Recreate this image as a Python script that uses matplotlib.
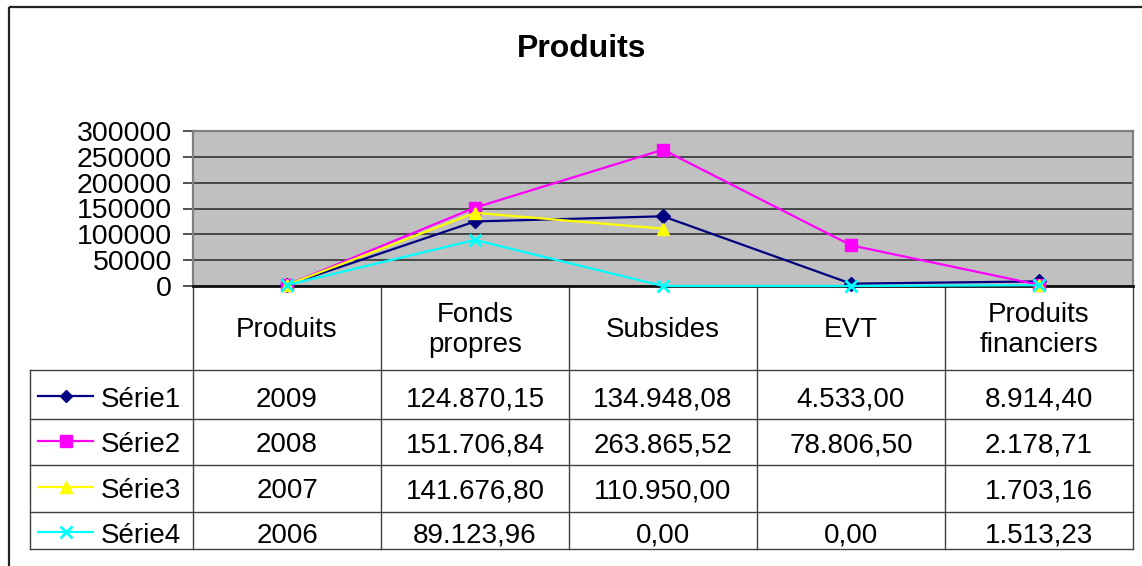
import numpy as np
import matplotlib.pyplot as plt

plt.rcParams['font.family'] = ['Liberation Sans', 'DejaVu Sans']

# data
categories = ["Produits", "Fonds\npropres", "Subsides", "EVT", "Produits\nfinanciers"]
series_names = ["Série1", "Série2", "Série3", "Série4"]
serie1 = [2009, 124870.15, 134948.08, 4533.00, 8914.40]
serie2 = [2008, 151706.84, 263865.52, 78806.50, 2178.71]
serie3 = [2007, 141676.80, 110950.00, np.nan, 1703.16]
serie4 = [2006, 89123.96, 0.00, 0.00, 1513.23]
yticks = [0, 50000, 100000, 150000, 200000, 250000, 300000]

all_series = [serie1, serie2, serie3, serie4]
colors = ["#000080", "#FF00FF", "#FFFF00", "#00FFFF"]
markers = ["D", "s", "^", "x"]
msizes = [7, 9, 9, 9]


def fmt(v, col):
    if np.isnan(v):
        return ""
    if col == 0:
        return f"{v:.0f}"
    s = f"{v:,.2f}"
    return s.replace(",", " ").replace(".", ",").replace(" ", ".")


W, H = 1142, 566
fig = plt.figure(figsize=(W / 100, H / 100), dpi=100)

# overlay in pixel coords for border, title and data table
ov = fig.add_axes([0, 0, 1, 1])
ov.set_xlim(0, W)
ov.set_ylim(H, 0)
ov.axis("off")
ov.add_patch(plt.Rectangle((8.5, 6.5), 1200, 700, fill=False, ec="#222222", lw=1.6))
ov.text(582, 57, "Produits", ha="center", va="baseline", fontsize=23, fontweight="bold")

# plot area
L, R, T, B = 193, 1133, 131, 286
ax = fig.add_axes([L / W, 1 - B / H, (R - L) / W, (B - T) / H])
ax.set_facecolor("#C0C0C0")
x = np.arange(len(categories)) + 0.5
for ys, c, m, ms in zip(all_series, colors, markers, msizes):
    ax.plot(x, ys, color=c, lw=1.6, marker=m, ms=ms, mew=2 if m == "x" else 1,
            clip_on=False, zorder=3)
ax.set_xlim(0, len(categories))
ax.set_ylim(0, 300000)
ax.set_yticks(yticks)
ax.set_yticklabels([str(t) for t in yticks], fontsize=20.5)
ax.yaxis.grid(True, color="#333333", lw=1.2)
ax.set_axisbelow(True)
ax.set_xticks([])
ax.tick_params(axis="y", length=7, width=1.2, pad=8, color="#333333")
ax.spines["top"].set_color("#808080")
ax.spines["right"].set_color("#808080")
ax.spines["left"].set_color("#808080")
for s in ["top", "right", "left"]:
    ax.spines[s].set_linewidth(1.6)
ax.spines["bottom"].set_color("#111111")
ax.spines["bottom"].set_linewidth(2)

# data table
bounds = np.linspace(L, R, len(categories) + 1)
row_lines = [370, 418.5, 465, 512, 548.5]
row_base = [407, 452, 498, 543]
gc = "#404040"
for xb in bounds:
    ov.plot([xb, xb], [B, row_lines[-1]], color=gc, lw=1)
ov.plot([30, 30], [row_lines[0], row_lines[-1]], color=gc, lw=1)
for yl in row_lines:
    ov.plot([30, R], [yl, yl], color=gc, lw=1)

fs = 20
for i, cat in enumerate(categories):
    cx = (bounds[i] + bounds[i + 1]) / 2
    ov.text(cx, 330, cat, ha="center", va="center", fontsize=fs, linespacing=1.2)

for r, (name, ys, c, m) in enumerate(zip(series_names, all_series, colors, markers)):
    yb = row_base[r]
    ym = yb - 11
    ov.plot([38, 93], [ym, ym], color=c, lw=1.6)
    ov.plot([65.5], [ym], color=c, marker=m, ms=8 if m != "D" else 6, mew=2 if m == "x" else 1)
    ov.text(101, yb, name, ha="left", va="baseline", fontsize=fs)
    for i, v in enumerate(ys):
        cx = (bounds[i] + bounds[i + 1]) / 2
        ov.text(cx, yb, fmt(v, i), ha="center", va="baseline", fontsize=fs)

fig.savefig("out.png", dpi=100)
